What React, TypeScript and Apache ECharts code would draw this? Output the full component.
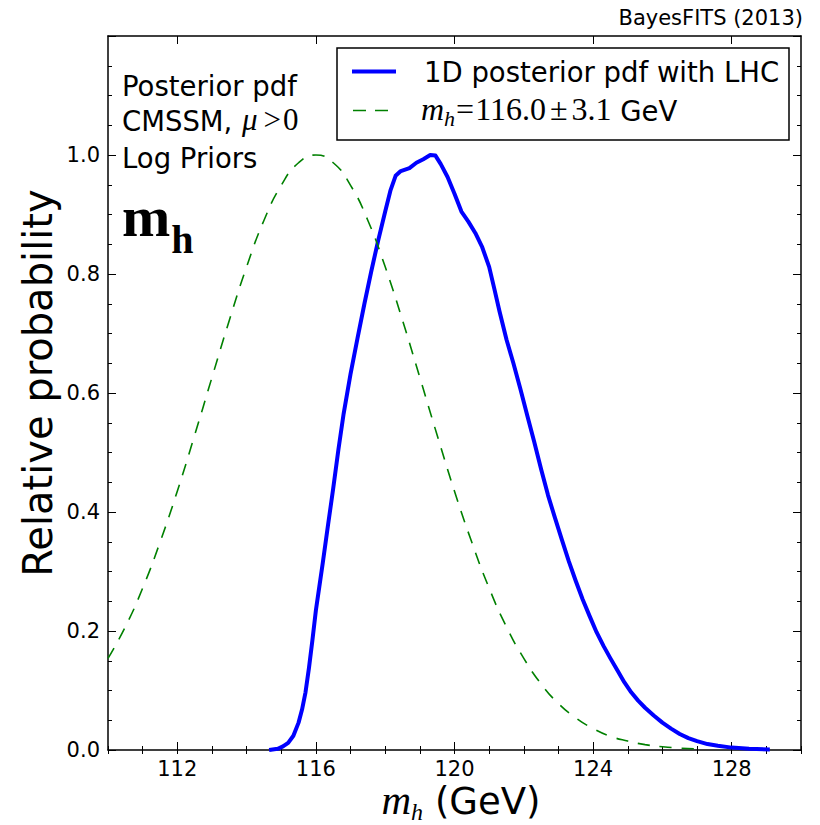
import React, { useEffect, useRef } from "react";
import * as echarts from "echarts";

// ---- data ----
const blueX = [
  114.65, 114.9, 115.05, 115.2, 115.35, 115.5, 115.6, 115.7, 115.8, 115.9, 116.0, 116.1, 116.2, 116.35,
  116.5, 116.65, 116.8, 117.0, 117.2, 117.4, 117.6, 117.8, 118.0, 118.15, 118.3, 118.45, 118.7, 118.9,
  119.1, 119.3, 119.45, 119.6, 119.8, 120.0, 120.2, 120.4, 120.6, 120.8, 121.0, 121.15, 121.3, 121.5,
  121.7, 121.9, 122.1, 122.3, 122.5, 122.7, 122.9, 123.1, 123.3, 123.5, 123.7, 123.9, 124.1, 124.3,
  124.5, 124.7, 124.9, 125.1, 125.3, 125.5, 125.75, 126.0, 126.25, 126.5, 126.75, 127.0, 127.3, 127.6,
  128.0, 128.5, 129.1,
];
const blueY = [
  0.0, 0.002, 0.006, 0.012, 0.024, 0.046, 0.068, 0.097, 0.138, 0.185, 0.235, 0.275, 0.315, 0.378,
  0.44, 0.505, 0.565, 0.632, 0.692, 0.75, 0.805, 0.857, 0.905, 0.94, 0.965, 0.973, 0.978, 0.987,
  0.993, 1.0, 0.999, 0.985, 0.963, 0.935, 0.905, 0.888, 0.869, 0.845, 0.812, 0.775, 0.737, 0.69,
  0.65, 0.607, 0.562, 0.518, 0.472, 0.428, 0.39, 0.353, 0.317, 0.284, 0.253, 0.225, 0.198, 0.175,
  0.154, 0.134, 0.114, 0.097, 0.083, 0.071, 0.058, 0.046, 0.036, 0.027, 0.02, 0.015, 0.01, 0.007,
  0.004, 0.002, 0.001,
];
const greenX = [
  110, 110.5, 111, 111.5, 112, 112.5, 113, 113.5, 114, 114.5, 115, 115.5, 116, 116.5, 117, 117.5,
  118, 118.5, 119, 119.5, 120, 120.5, 121, 121.5, 122, 122.5, 123, 123.5, 124, 124.5, 125, 125.5,
  126, 126.5, 127,
];
const greenY = [
  0.154, 0.207, 0.272, 0.349, 0.435, 0.529, 0.626, 0.722, 0.812, 0.89, 0.949, 0.987, 1.0, 0.987,
  0.949, 0.89, 0.812, 0.722, 0.626, 0.529, 0.435, 0.349, 0.272, 0.207, 0.154, 0.111, 0.078, 0.054,
  0.036, 0.023, 0.015, 0.009, 0.0055, 0.0032, 0.0018,
];
const xMajorTicks = [112, 116, 120, 124, 128];
const yTickLabels = ["0.0", "0.2", "0.4", "0.6", "0.8", "1.0"];
const legendLabels = ["1D posterior pdf with LHC", "m_h=116.0±3.1 GeV"];
const infoLines = ["Posterior pdf", "CMSSM, μ>0", "Log Priors"];

const SANS = '"DejaVu Sans"';
const SERIF = '"Liberation Serif"';

type Piece = { text: string; style: string; size: number; family: string; base: number; gap?: number };

let measureCtx: CanvasRenderingContext2D | null = null;
function measure(font: string, text: string) {
  if (!measureCtx) measureCtx = document.createElement("canvas").getContext("2d");
  measureCtx!.font = font;
  return measureCtx!.measureText(text).width;
}

function buildRow(pieces: Piece[], startX: number, anchor: "left" | "center" = "left") {
  const fonts = pieces.map((p) => `${p.style} ${p.size}px ${p.family}`);
  const widths = pieces.map((p, i) => measure(fonts[i], p.text));
  const total = widths.reduce((a, b, i) => a + b + (pieces[i].gap || 0), 0);
  let x = anchor === "center" ? startX - total / 2 : startX;
  return pieces.map((p, i) => {
    x += p.gap || 0;
    const el = {
      type: "text",
      x,
      y: p.base - 0.345 * p.size,
      z: 60,
      style: { text: p.text, font: fonts[i], fill: "#000", align: "left", verticalAlign: "middle" },
    };
    x += widths[i];
    return el;
  });
}

export default function App() {
  const ref = useRef<HTMLDivElement>(null);
  useEffect(() => {
    if (!ref.current) return;
    const chart = echarts.init(ref.current, undefined, { renderer: "svg" });
    const black = "#000";
    const tickLS = { color: black, width: 1 };
    const lineLS = { color: black, width: 1.5 };
    const base = { type: "value" as const, min: 110, max: 130, interval: 1, splitLine: { show: false } };
    const yBase = { type: "value" as const, min: 0, max: 1.2, interval: 0.2, splitLine: { show: false } };

    const mu = infoLines[1].split(", ");
    const graphic: any[] = [
      ...buildRow([{ text: infoLines[0], style: "normal", size: 27.5, family: SANS, base: 95 }], 122),
      ...buildRow(
        [
          { text: mu[0] + ", ", style: "normal", size: 27.5, family: SANS, base: 130 },
          { text: "μ", style: "italic", size: 31, family: SERIF, base: 130, gap: 1 },
          { text: ">", style: "normal", size: 31, family: SERIF, base: 130, gap: 6 },
          { text: "0", style: "normal", size: 31, family: SERIF, base: 130, gap: 2 },
        ],
        122
      ),
      ...buildRow([{ text: infoLines[2], style: "normal", size: 27.5, family: SANS, base: 167 }], 122),
      ...buildRow(
        [
          { text: "m", style: "normal bold", size: 58, family: SERIF, base: 237 },
          { text: "h", style: "normal bold", size: 40, family: SERIF, base: 253, gap: 1 },
        ],
        122
      ),
      // legend box
      {
        type: "rect",
        z: 55,
        shape: { x: 337, y: 48, width: 452, height: 92 },
        style: { fill: "#fff", stroke: black, lineWidth: 1.5 },
      },
      {
        type: "line",
        z: 58,
        shape: { x1: 352, y1: 71.5, x2: 396, y2: 71.5 },
        style: { stroke: "#0000ff", lineWidth: 4 },
      },
      {
        type: "line",
        z: 58,
        shape: { x1: 353, y1: 110.5, x2: 388, y2: 110.5 },
        style: { stroke: "#008000", lineWidth: 1.6, lineDash: [13, 9] },
      },
      ...buildRow([{ text: legendLabels[0], style: "normal", size: 27.5, family: SANS, base: 81.5 }], 424),
      ...buildRow(
        [
          { text: "m", style: "italic", size: 32, family: SERIF, base: 120 },
          { text: "h", style: "italic", size: 22, family: SERIF, base: 126 },
          { text: "=", style: "normal", size: 32, family: SERIF, base: 120, gap: 1 },
          { text: "116.0", style: "normal", size: 32, family: SERIF, base: 120, gap: 1 },
          { text: "±", style: "normal", size: 32, family: SERIF, base: 120, gap: 4 },
          { text: "3.1", style: "normal", size: 32, family: SERIF, base: 120, gap: 4 },
          { text: " GeV", style: "normal", size: 27.5, family: SANS, base: 120 },
        ],
        421
      ),
      // axis titles
      ...buildRow(
        [
          { text: "m", style: "italic", size: 41, family: SERIF, base: 814 },
          { text: "h", style: "italic", size: 24, family: SERIF, base: 820 },
          { text: " (GeV)", style: "normal", size: 37, family: SANS, base: 814 },
        ],
        461,
        "center"
      ),
      {
        type: "text",
        x: 38,
        y: 383,
        rotation: Math.PI / 2,
        z: 60,
        style: {
          text: "Relative probability",
          font: `normal 40px ${SANS}`,
          fill: black,
          align: "center",
          verticalAlign: "middle",
        },
      },
      {
        type: "text",
        x: 803,
        y: 25 - 0.345 * 21,
        z: 60,
        style: { text: "BayesFITS (2013)", font: `normal 21px ${SANS}`, fill: black, align: "right", verticalAlign: "middle" },
      },
    ];

    chart.setOption({
      animation: false,
      backgroundColor: "#fff",
      grid: { left: 108, right: 19, top: 36, bottom: 75, containLabel: false },
      xAxis: [
        {
          ...base,
          position: "bottom",
          axisLine: { show: true, onZero: false, lineStyle: lineLS },
          axisTick: { show: true, inside: true, length: 8, customValues: xMajorTicks, lineStyle: tickLS },
          axisLabel: {
            show: true,
            customValues: xMajorTicks,
            margin: 8,
            color: black,
            fontSize: 21,
            fontFamily: "DejaVu Sans",
            formatter: (v: number) => String(v),
          },
        },
        {
          ...base,
          position: "bottom",
          axisLine: { show: false },
          axisTick: { show: true, inside: true, length: 4, lineStyle: tickLS },
          axisLabel: { show: false },
        },
        {
          ...base,
          position: "top",
          axisLine: { show: true, onZero: false, lineStyle: lineLS },
          axisTick: { show: true, inside: true, length: 8, customValues: xMajorTicks, lineStyle: tickLS },
          axisLabel: { show: false },
        },
        {
          ...base,
          position: "top",
          axisLine: { show: false },
          axisTick: { show: true, inside: true, length: 4, lineStyle: tickLS },
          axisLabel: { show: false },
        },
      ],
      yAxis: [
        {
          ...yBase,
          position: "left",
          axisLine: { show: true, onZero: false, lineStyle: lineLS },
          axisTick: { show: true, inside: true, length: 8, lineStyle: tickLS },
          minorTick: { show: true, splitNumber: 4, length: 4, lineStyle: tickLS },
          axisLabel: {
            show: true,
            margin: 8,
            color: black,
            fontSize: 21,
            fontFamily: "DejaVu Sans",
            formatter: (v: number) => {
              const i = Math.round(v / 0.2);
              return i < yTickLabels.length ? yTickLabels[i] : "";
            },
          },
        },
        {
          ...yBase,
          position: "right",
          axisLine: { show: true, onZero: false, lineStyle: lineLS },
          axisTick: { show: true, inside: true, length: 8, lineStyle: tickLS },
          minorTick: { show: true, splitNumber: 4, length: 4, lineStyle: tickLS },
          axisLabel: { show: false },
        },
      ],
      series: [
        {
          name: legendLabels[0],
          type: "line",
          xAxisIndex: 0,
          yAxisIndex: 0,
          data: blueX.map((x, i) => [x, blueY[i]]),
          symbol: "none",
          showSymbol: false,
          lineStyle: { color: "#0000ff", width: 4, join: "round" },
          itemStyle: { color: "#0000ff" },
          z: 3,
        },
        {
          name: legendLabels[1],
          type: "line",
          xAxisIndex: 0,
          yAxisIndex: 0,
          data: greenX.map((x, i) => [x, greenY[i]]),
          symbol: "none",
          showSymbol: false,
          smooth: true,
          lineStyle: { color: "#008000", width: 1.6, type: [12, 10] },
          itemStyle: { color: "#008000" },
          z: 4,
        },
      ],
      graphic,
    });
    return () => chart.dispose();
  }, []);
  return (
    <div
      ref={ref}
      style={{ position: "fixed", left: 0, top: 0, width: 820, height: 825, background: "#fff" }}
    />
  );
}
